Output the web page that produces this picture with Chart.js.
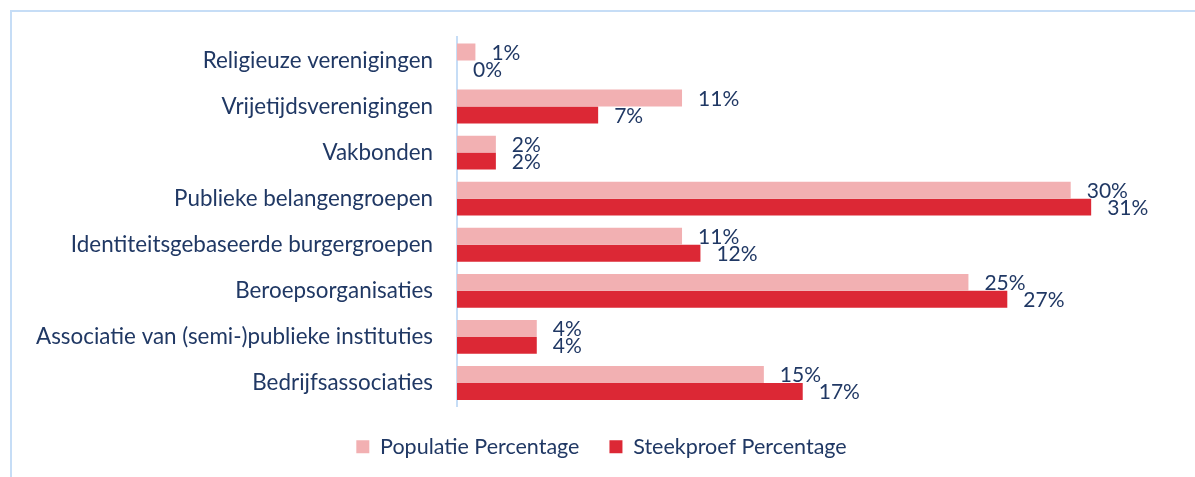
<!DOCTYPE html>
<html>
<head>
<meta charset="utf-8">
<script src="https://cdn.jsdelivr.net/npm/chart.js@4.4.1/dist/chart.umd.min.js"></script>
<style>
  html, body { margin: 0; padding: 0; background: #fff; }
  #wrap { width: 1195px; height: 477px; }
</style>
</head>
<body>
<div id="wrap"><canvas id="chart" width="1195" height="477"></canvas></div>
<script>
const categories = [
  "Religieuze verenigingen",
  "Vrijetijdsverenigingen",
  "Vakbonden",
  "Publieke belangengroepen",
  "Identiteitsgebaseerde burgergroepen",
  "Beroepsorganisaties",
  "Associatie van (semi-)publieke instituties",
  "Bedrijfsassociaties"
];
const populatie = [0.9, 11.0, 1.9, 30.0, 11.0, 25.0, 3.9, 15.0];
const steekproef = [0, 6.9, 1.9, 31.0, 11.9, 26.9, 3.9, 16.9];
const populatieLabels = ["1%", "11%", "2%", "30%", "11%", "25%", "4%", "15%"];
const steekproefLabels = ["0%", "7%", "2%", "31%", "12%", "27%", "4%", "17%"];

const navy = "#203864";
const fontName = "Lato";

// light blue frame round the chart (left + top only)
const frame = {
  id: "frame",
  beforeDraw(chart) {
    const c = chart.ctx;
    c.save();
    c.strokeStyle = "#c6ddf6";
    c.lineWidth = 2;
    c.beginPath();
    c.moveTo(11, 477);
    c.lineTo(11, 11);
    c.lineTo(1195, 11);
    c.stroke();
    c.restore();
  }
};

// percentage text at the end of every bar
const valueLabels = {
  id: "valueLabels",
  afterDatasetsDraw(chart) {
    const c = chart.ctx;
    c.save();
    c.font = "21px " + fontName;
    c.fillStyle = navy;
    c.textBaseline = "middle";
    c.textAlign = "left";
    chart.data.datasets.forEach((ds, i) => {
      chart.getDatasetMeta(i).data.forEach((bar, j) => {
        c.fillText(ds.valueLabels[j], bar.x + 16, bar.y + 1);
      });
    });
    c.restore();
  }
};

const legendHeight = {
  id: "legendHeight",
  beforeInit(chart) {
    const fit = chart.legend.fit;
    chart.legend.fit = function () {
      fit.bind(chart.legend)();
      this.height = 60;
    };
  }
};

const padLeft = 30;

new Chart(document.getElementById("chart"), {
  type: "bar",
  data: {
    labels: categories,
    datasets: [
      {
        label: "Populatie Percentage",
        data: populatie,
        valueLabels: populatieLabels,
        backgroundColor: "#f2b0b2",
        categoryPercentage: 0.735,
        barPercentage: 1.0
      },
      {
        label: "Steekproef Percentage",
        data: steekproef,
        valueLabels: steekproefLabels,
        backgroundColor: "#dc2835",
        categoryPercentage: 0.735,
        barPercentage: 1.0
      }
    ]
  },
  options: {
    indexAxis: "y",
    responsive: false,
    animation: false,
    layout: { padding: { top: 37, right: 22, bottom: 11, left: padLeft } },
    scales: {
      x: { display: false, min: 0, max: 35 },
      y: {
        afterFit(scale) { scale.width = 457 - padLeft; },
        grid: { display: false, drawTicks: false },
        border: { display: true, color: "#c6ddf6", width: 2 },
        ticks: {
          padding: 24,
          color: navy,
          font: { family: fontName, size: 22.4 }
        }
      }
    },
    plugins: {
      tooltip: { enabled: false },
      legend: {
        position: "bottom",
        labels: {
          boxWidth: 13,
          boxHeight: 13,
          padding: 30,
          color: navy,
          font: { family: fontName, size: 21.5 }
        }
      }
    }
  },
  plugins: [frame, valueLabels, legendHeight]
});
</script>
</body>
</html>
